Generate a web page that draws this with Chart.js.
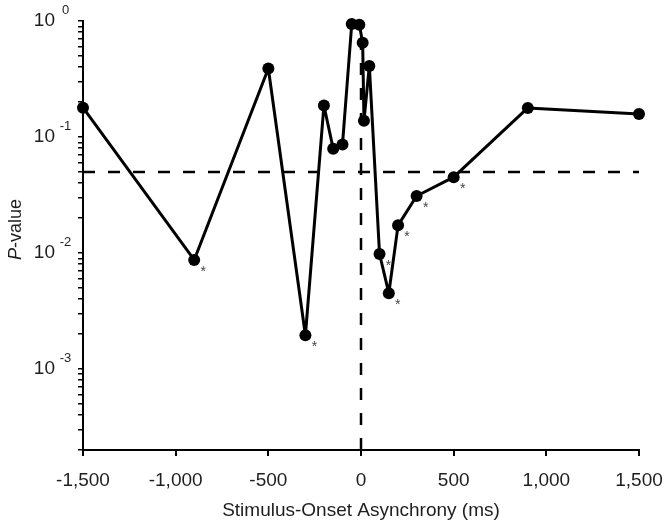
<!DOCTYPE html>
<html>
<head>
<meta charset="utf-8">
<script src="https://cdn.jsdelivr.net/npm/chart.js@4.4.1/dist/chart.umd.min.js"></script>
<style>
  html, body { margin: 0; padding: 0; background: #fff; }
</style>
</head>
<body>
<canvas id="chart" width="666" height="526"></canvas>
<script>
// SOA (ms) and the p-value measured at each one
const soa = [-1500, -900, -500, -300, -200, -150, -100, -50, -9, 9, 16, 45, 100, 150, 200, 300, 500, 900, 1500];
const pValues = [0.179, 0.0087, 0.39, 0.00195, 0.187, 0.079, 0.086, 0.94, 0.93, 0.65, 0.138, 0.41, 0.0098, 0.0045, 0.0173, 0.031, 0.045, 0.178, 0.158];

const xTicks = [-1500, -1000, -500, 0, 500, 1000, 1500];
const yDecades = [1e-4, 1e-3, 1e-2, 1e-1, 1];
const yMultipliers = [1, 2, 3, 4, 5, 6, 7, 8, 9];
const alpha = 0.05;
const yMin = 2e-4;
const yMax = 1;

const FONT = '"Liberation Sans", Arial, Helvetica, sans-serif';
const TEXT = '#1e1e1e';

const isPow10 = (v) => {
  const e = Math.log10(v);
  return Math.abs(e - Math.round(e)) < 1e-9;
};

// all log ticks (major + minor) between min and max
const yTickValues = [];
yDecades.forEach(d => {
  yMultipliers.forEach(m => {
    const v = d * m;
    if (v >= yMin * 0.999 && v <= yMax * 1.001) yTickValues.push(v);
  });
});

/** superscript exponents on the y labels + the y title with italic P */
const axisText = {
  id: 'axisText',
  afterDraw(chart) {
    const ctx = chart.ctx;
    const y = chart.scales.y;
    ctx.save();
    ctx.fillStyle = TEXT;
    ctx.font = `13px ${FONT}`;
    ctx.textAlign = 'center';
    ctx.textBaseline = 'middle';
    y.ticks.forEach(t => {
      if (!isPow10(t.value)) return;
      ctx.fillText(String(Math.round(Math.log10(t.value))), y.right - 17.5, y.getPixelForValue(t.value) - 11);
    });

    // y title
    const area = chart.chartArea;
    ctx.translate(16, (area.top + area.bottom) / 2 - 6);
    ctx.rotate(-Math.PI / 2);
    ctx.textAlign = 'left';
    ctx.font = `italic 18px ${FONT}`;
    const wP = ctx.measureText('P').width;
    ctx.font = `18px ${FONT}`;
    const wRest = ctx.measureText('-value').width;
    const x0 = -(wP + wRest) / 2;
    ctx.font = `italic 18px ${FONT}`;
    ctx.fillText('P', x0, 0);
    ctx.font = `18px ${FONT}`;
    ctx.fillText('-value', x0 + wP, 0);
    ctx.restore();
  }
};

/** asterisk next to each significant point */
const sigMarks = {
  id: 'sigMarks',
  afterDatasetsDraw(chart) {
    const meta = chart.getDatasetMeta(0);
    const ctx = chart.ctx;
    ctx.save();
    ctx.font = `14px ${FONT}`;
    ctx.fillStyle = '#444';
    ctx.textAlign = 'center';
    ctx.textBaseline = 'middle';
    meta.data.forEach((pt, i) => {
      if (pValues[i] < alpha) ctx.fillText('*', pt.x + 9, pt.y + 12);
    });
    ctx.restore();
  }
};

new Chart(document.getElementById('chart'), {
  type: 'line',
  data: {
    datasets: [
      {
        data: soa.map((x, i) => ({ x, y: pValues[i] })),
        borderColor: '#000',
        backgroundColor: '#000',
        borderWidth: 3,
        borderJoinStyle: 'round',
        pointRadius: 6,
        pointBorderWidth: 0,
        tension: 0,
        clip: false,
        order: 0,
      },
      {
        data: [{ x: xTicks[0], y: alpha }, { x: xTicks[xTicks.length - 1], y: alpha }],
        borderColor: '#000',
        borderWidth: 2.5,
        borderDash: [12, 13],
        pointRadius: 0,
        order: 1,
      },
      {
        data: [{ x: 0, y: yMin }, { x: 0, y: yMax }],
        borderColor: '#000',
        borderWidth: 2.5,
        borderDash: [12, 13],
        pointRadius: 0,
        order: 1,
      },
    ]
  },
  options: {
    responsive: false,
    animation: false,
    devicePixelRatio: 1,
    layout: { padding: { top: 21, right: 27, bottom: 0, left: 0 } },
    plugins: { legend: { display: false }, tooltip: { enabled: false } },
    scales: {
      x: {
        type: 'linear',
        min: xTicks[0],
        max: xTicks[xTicks.length - 1],
        afterBuildTicks: (s) => { s.ticks = xTicks.map(v => ({ value: v })); },
        afterFit: (s) => { s.height = 76; s.paddingLeft = 0; s.paddingRight = 0; },
        ticks: {
          callback: (v) => Number(v).toLocaleString('en-US'),
          autoSkip: false,
          maxRotation: 0,
          color: TEXT,
          padding: 13,
          font: { family: FONT, size: 19 },
        },
        grid: { drawOnChartArea: false, tickLength: 6, color: '#000', lineWidth: 2 },
        border: { color: '#000', width: 2 },
        title: {
          display: true,
          text: 'Stimulus-Onset Asynchrony (ms)',
          color: TEXT,
          font: { family: FONT, size: 19 },
          padding: { top: 0, bottom: 4 },
        },
      },
      y: {
        type: 'logarithmic',
        min: yMin,
        max: yMax,
        afterBuildTicks: (s) => { s.ticks = yTickValues.map(v => ({ value: v })); },
        afterFit: (s) => { s.width = 83; s.paddingTop = 0; s.paddingBottom = 0; },
        ticks: {
          callback: (v) => (isPow10(v) ? '10' : ''),
          autoSkip: false,
          color: TEXT,
          padding: 23,
          font: { family: FONT, size: 19 },
        },
        grid: { drawOnChartArea: false, tickLength: 5, color: '#000', lineWidth: 1.5 },
        border: { color: '#000', width: 2 },
      },
    },
  },
  plugins: [sigMarks, axisText],
});
</script>
</body>
</html>
